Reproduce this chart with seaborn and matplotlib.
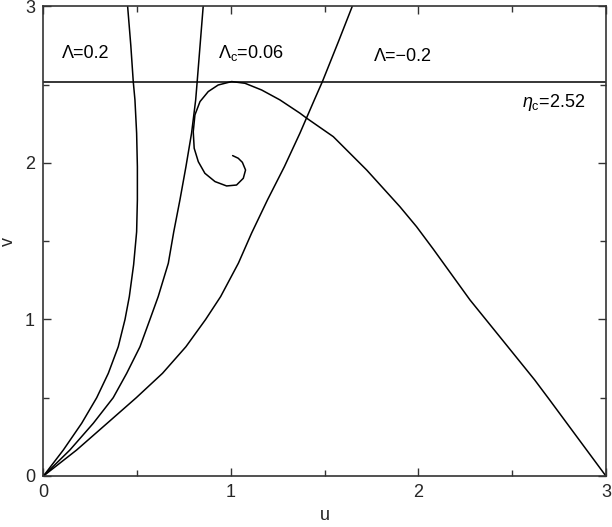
import matplotlib
matplotlib.use("Agg")
import matplotlib.pyplot as plt
import seaborn as sns
import pandas as pd
from matplotlib.ticker import MultipleLocator

# ---- data ----
lam02_u = [0.0, 0.106, 0.204, 0.284, 0.346, 0.399, 0.435, 0.458, 0.481, 0.497, 0.501, 0.501, 0.497, 0.488, 0.479, 0.466, 0.449]
lam02_v = [0.0, 0.166, 0.337, 0.500, 0.656, 0.826, 1.000, 1.146, 1.350, 1.560, 1.764, 1.976, 2.190, 2.403, 2.520, 2.750, 3.000]

lamc_u = [0.0, 0.141, 0.266, 0.372, 0.444, 0.515, 0.568, 0.612, 0.666, 0.695, 0.728, 0.760, 0.790, 0.812, 0.820, 0.852]
lamc_v = [0.0, 0.166, 0.337, 0.500, 0.656, 0.826, 1.000, 1.146, 1.359, 1.560, 1.764, 1.976, 2.190, 2.403, 2.520, 3.000]

lamm_u = [0.0, 0.177, 0.340, 0.495, 0.635, 0.760, 0.865, 0.945, 1.040, 1.110, 1.195, 1.285, 1.368, 1.445, 1.488, 1.575, 1.647]
lamm_v = [0.0, 0.166, 0.337, 0.500, 0.656, 0.826, 1.000, 1.146, 1.360, 1.551, 1.764, 1.976, 2.190, 2.403, 2.520, 2.780, 3.000]

spiral_u = [3.0, 2.845, 2.70, 2.62, 2.448, 2.275, 2.079, 1.990, 1.901, 1.724, 1.546, 1.404, 1.368, 1.261, 1.164, 1.075,
            1.004, 0.932, 0.879, 0.835, 0.808, 0.799, 0.804, 0.826, 0.861, 0.915, 0.977, 1.030, 1.066, 1.078, 1.061, 1.039, 1.009]
spiral_v = [0.0, 0.251, 0.486, 0.614, 0.869, 1.125, 1.450, 1.593, 1.721, 1.955, 2.168, 2.286, 2.318, 2.403, 2.466, 2.509,
            2.520, 2.498, 2.456, 2.392, 2.307, 2.200, 2.094, 2.008, 1.934, 1.881, 1.853, 1.859, 1.902, 1.955, 2.004, 2.030, 2.047]

eta_c = 2.52
x_range = [0.0, 3.0]

labels = ["Λ=0.2", r"$\Lambda_{\rm c}$=0.06", "Λ=−0.2", r"$\eta_{\rm c}$=2.52"]
label_u = [0.10, 0.93, 1.76, 2.55]
label_v = [2.70, 2.70, 2.68, 2.385]

# ---- plotting ----
sns.set_theme(style="ticks")
plt.rcParams["font.family"] = ["Liberation Sans", "DejaVu Sans"]
plt.rcParams["mathtext.fontset"] = "custom"
plt.rcParams["mathtext.rm"] = "Liberation Sans"
plt.rcParams["mathtext.it"] = "Liberation Sans:italic"
plt.rcParams["lines.solid_joinstyle"] = "round"

fig = plt.figure(figsize=(6.12, 5.27), dpi=100)
ax = fig.add_axes([0.071, 0.0968, 0.919, 0.891])

curves = [(lam02_u, lam02_v), (lamc_u, lamc_v), (lamm_u, lamm_v), (spiral_u, spiral_v)]
for cu, cv in curves:
    df = pd.DataFrame({"u": cu, "v": cv})
    sns.lineplot(data=df, x="u", y="v", sort=False, estimator=None, color="black", lw=1.1, ax=ax)

sns.lineplot(x=x_range, y=[eta_c, eta_c], color="black", lw=1.1, ax=ax)

for t, lu, lv in zip(labels, label_u, label_v):
    ax.text(lu, lv, t, fontsize=13, ha="left", va="center", color="black")

ax.set_xlim(0, 3)
ax.set_ylim(0, 3)
ax.xaxis.set_major_locator(MultipleLocator(1))
ax.yaxis.set_major_locator(MultipleLocator(1))
ax.xaxis.set_minor_locator(MultipleLocator(0.5))
ax.yaxis.set_minor_locator(MultipleLocator(0.5))
ax.tick_params(which="both", direction="in", top=True, right=True, color="#333333", labelsize=13, pad=6)
ax.tick_params(which="major", length=6, width=1)
ax.tick_params(which="minor", length=4, width=1)
for s in ax.spines.values():
    s.set_color("#333333")
    s.set_linewidth(1.2)
    s.set_visible(True)
ax.set_xlabel("u", fontsize=13, labelpad=4)
ax.set_ylabel("v", fontsize=13, labelpad=6)

fig.savefig("out.png", dpi=100)
